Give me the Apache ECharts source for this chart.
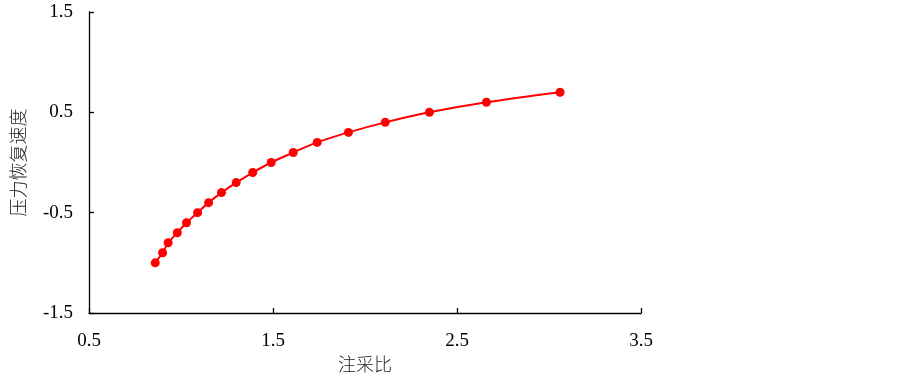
<!DOCTYPE html>
<html>
<head>
<meta charset="utf-8">
<script src="https://cdn.jsdelivr.net/npm/echarts@6/dist/echarts.min.js"></script>
<style>html,body{margin:0;padding:0;background:#fff}#c{width:900px;height:380px}</style>
</head>
<body>
<div id="c"></div>
<script>
var injectionRatio = [0.86,0.90,0.93,0.98,1.03,1.09,1.15,1.22,1.30,1.39,1.49,1.61,1.74,1.91,2.11,2.35,2.66,3.06];
var recoverySpeed = [-1.0,-0.9,-0.8,-0.7,-0.6,-0.5,-0.4,-0.3,-0.2,-0.1,0.0,0.1,0.2,0.3,0.4,0.5,0.6,0.7];
var xTicks = [0.5,1.5,2.5,3.5];
var yTicks = [-1.5,-0.5,0.5,1.5];
var xName = '注采比';
var yName = '压力恢复速度';

var data = injectionRatio.map(function(x,i){return [x, recoverySpeed[i]];});
var font = '"Liberation Serif","Noto Sans CJK SC",serif';
var chart = echarts.init(document.getElementById('c'));
chart.setOption({
  animation:false,
  grid:{left:89,right:259,top:12,bottom:60,containLabel:false},
  xAxis:{
    type:'value', min:xTicks[0], max:xTicks[xTicks.length-1], interval:1,
    name:xName, nameLocation:'middle', nameGap:44,
    nameTextStyle:{fontFamily:font,fontSize:18,fontWeight:300,color:'#222'},
    axisLine:{show:true,onZero:false,lineStyle:{color:'#000',width:1.3}},
    axisTick:{show:true,inside:true,length:5,lineStyle:{color:'#000',width:1.3}},
    axisLabel:{fontFamily:font,fontSize:19,color:'#000',margin:19,formatter:function(v){return v.toFixed(1);}},
    splitLine:{show:false}
  },
  yAxis:{
    type:'value', min:yTicks[0], max:yTicks[yTicks.length-1], interval:1,
    name:yName, nameLocation:'middle', nameGap:60,
    nameTextStyle:{fontFamily:font,fontSize:18,fontWeight:300,color:'#222'},
    axisLine:{show:true,onZero:false,lineStyle:{color:'#000',width:1.3}},
    axisTick:{show:true,inside:true,length:5,lineStyle:{color:'#000',width:1.3}},
    axisLabel:{fontFamily:font,fontSize:19,color:'#000',margin:16,formatter:function(v){return v.toFixed(1);}},
    splitLine:{show:false}
  },
  series:[{
    type:'line', data:data, smooth:0.3,
    symbol:'circle', symbolSize:9,
    lineStyle:{color:'#ff0000',width:2},
    itemStyle:{color:'#ff0000'}
  }]
});
</script>
</body>
</html>
